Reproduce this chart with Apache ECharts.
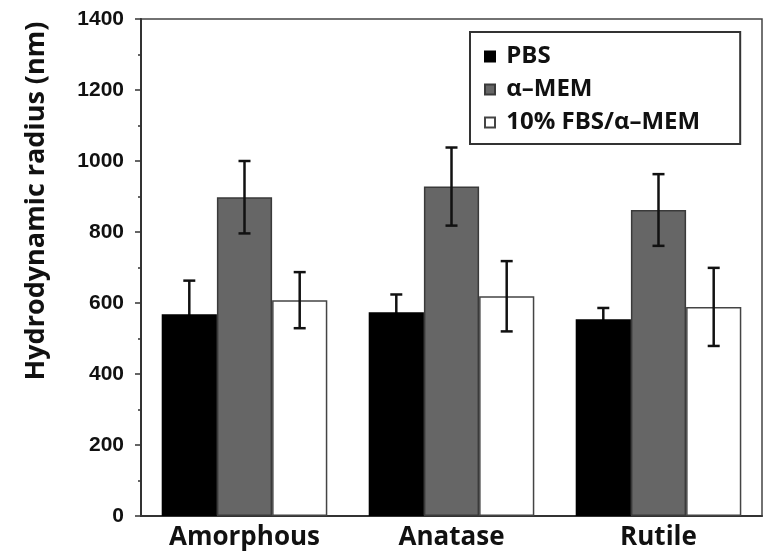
<!DOCTYPE html>
<html>
<head>
<meta charset="utf-8">
<script src="https://cdn.jsdelivr.net/npm/echarts@6/dist/echarts.min.js"></script>
<style>
  html, body { margin: 0; padding: 0; background: #fff; }
  #chart { width: 769px; height: 556px; }
</style>
</head>
<body>
<div id="chart"></div>
<script>
// Particle phases on the x axis
const categories = ['Amorphous', 'Anatase', 'Rutile'];

// Dispersion media (legend entries)
const mediaNames = ['PBS', 'α–MEM', '10% FBS/α–MEM'];

// Mean hydrodynamic radius (nm) per medium, ordered like categories
const pbsMean = [568, 574, 554];
const memMean = [898, 928, 862];
const fbsMean = [608, 619, 589];

// Standard deviation (nm) per medium
const pbsErr = [95, 50, 32];
const memErr = [102, 110, 101];
const fbsErr = [79, 99, 110];

// Y axis range and step
const yMin = 0;
const yMax = 1400;
const yStep = 200;

const means = [pbsMean, memMean, fbsMean];
const errs = [pbsErr, memErr, fbsErr];

const fills = ['#000000', '#666666', '#ffffff'];
const edges = ['#000000', '#3a3a3a', '#444444'];
// whiskers of the black bars sit behind them, the others on top
const errZ = [1, 5, 5];

const GAP_RATIO = 0.2; // matches barCategoryGap below

const chart = echarts.init(document.getElementById('chart'));

const barSeries = mediaNames.map((name, i) => ({
  name: name,
  type: 'bar',
  data: means[i],
  barGap: '0%',
  barCategoryGap: '20%',
  itemStyle: { color: fills[i], borderColor: edges[i], borderWidth: 1.5 },
  z: 2
}));

// Error bars: vertical whisker with caps, centred on each bar
const errSeries = mediaNames.map((name, i) => ({
  name: name + ' sd',
  type: 'custom',
  z: errZ[i],
  data: categories.map((c, k) => [k, means[i][k] - errs[i][k], means[i][k] + errs[i][k]]),
  renderItem: function (params, api) {
    const k = api.value(0);
    const lo = api.coord([k, api.value(1)]);
    const hi = api.coord([k, api.value(2)]);
    const band = api.size([1, 0])[0];
    const barW = band * (1 - GAP_RATIO) / 3;
    const x = lo[0] + (i - 1) * barW;
    const cap = 6;
    const style = { stroke: '#111', lineWidth: 2.5 };
    return {
      type: 'group',
      children: [
        { type: 'line', shape: { x1: x, y1: lo[1], x2: x, y2: hi[1] }, style: style },
        { type: 'line', shape: { x1: x - cap, y1: hi[1], x2: x + cap, y2: hi[1] }, style: style },
        { type: 'line', shape: { x1: x - cap, y1: lo[1], x2: x + cap, y2: lo[1] }, style: style }
      ]
    };
  }
}));

const titleFont = '"Open Sans", "Liberation Sans", sans-serif';
const tickFont = '"Liberation Sans", Arial, sans-serif';

chart.setOption({
  animation: false,
  grid: {
    left: 141, right: 7, top: 19, bottom: 40,
    show: true, borderColor: '#444', borderWidth: 1.5, backgroundColor: 'transparent'
  },
  legend: {
    data: mediaNames,
    orient: 'vertical',
    left: 470, top: 32,
    icon: 'rect',
    itemWidth: 10, itemHeight: 10,
    itemGap: 8,
    padding: [12, 40, 9, 14],
    borderColor: '#333', borderWidth: 2,
    formatter: name => ' ' + name,
    textStyle: { fontFamily: titleFont, fontWeight: 'bold', fontSize: 24, color: '#111', lineHeight: 25 }
  },
  graphic: [{
    type: 'text',
    x: 36, y: 201,
    rotation: Math.PI / 2,
    style: {
      text: 'Hydrodynamic radius (nm)',
      font: 'bold 27px ' + titleFont,
      fill: '#111',
      align: 'center',
      verticalAlign: 'middle'
    }
  }],
  xAxis: [{
    type: 'category',
    data: categories,
    axisLine: { lineStyle: { color: '#333', width: 2 } },
    axisTick: { alignWithLabel: true, length: 6, lineStyle: { color: '#333', width: 1.5 } },
    axisLabel: { margin: 9, fontFamily: titleFont, fontWeight: 'bold', fontSize: 26, color: '#111' }
  }, {
    type: 'category',
    data: categories,
    position: 'bottom',
    axisLine: { show: false },
    axisTick: { length: 3, lineStyle: { color: '#333', width: 1.5 } },
    axisLabel: { show: false }
  }],
  yAxis: {
    type: 'value',
    min: yMin, max: yMax, interval: yStep,
    axisLine: { show: true, lineStyle: { color: '#333', width: 2 } },
    axisTick: { show: true, length: 6, lineStyle: { color: '#333', width: 1.5 } },
    minorTick: { show: true, splitNumber: 2, length: 3, lineStyle: { color: '#333', width: 1.5 } },
    splitLine: { show: false },
    axisLabel: {
      margin: 17, fontFamily: tickFont, fontWeight: 'bold', fontSize: 21, color: '#111',
      formatter: v => String(v)
    }
  },
  series: barSeries.concat(errSeries)
});
</script>
</body>
</html>
